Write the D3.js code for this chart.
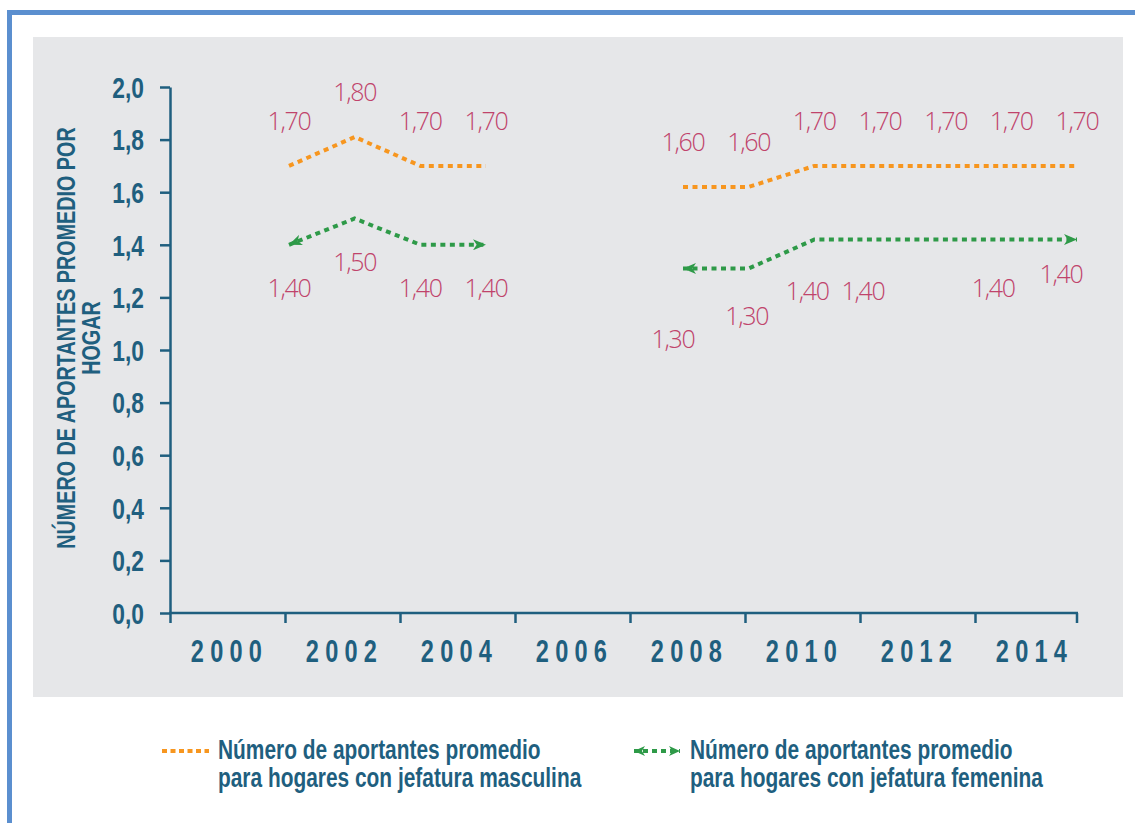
<!DOCTYPE html>
<html><head><meta charset="utf-8">
<script src="https://cdn.jsdelivr.net/npm/d3@7"></script>
<style>
html,body{margin:0;padding:0;background:#fff;}
svg{display:block;}
</style></head><body>
<svg id="chart" width="1135" height="823"></svg>
<script>
// ---- data ----
const years = [2002, 2003, 2004, 2005, 2006, 2007, 2008, 2009, 2010, 2011, 2012, 2013, 2014];
const maleValues   = [1.70, 1.81, 1.70, 1.70, null, null, 1.62, 1.62, 1.70, 1.70, 1.70, 1.70, 1.70];
const femaleValues = [1.40, 1.50, 1.40, 1.40, null, null, 1.31, 1.31, 1.42, 1.42, 1.42, 1.42, 1.42];
const maleLabels   = [1.7, 1.8, 1.7, 1.7, null, null, 1.6, 1.6, 1.7, 1.7, 1.7, 1.7, 1.7];
const femaleLabels = [1.4, 1.5, 1.4, 1.4, null, null, 1.3, 1.3, 1.4, 1.4, null, 1.4, 1.4];
const axisYears = [2000, 2002, 2004, 2006, 2008, 2010, 2012, 2014];
const yTicks = [0, 0.2, 0.4, 0.6, 0.8, 1.0, 1.2, 1.4, 1.6, 1.8, 2.0];
const yTitleLines = ["NÚMERO DE APORTANTES PROMEDIO POR", "HOGAR"];
const legendMale = ["Número de aportantes promedio", "para hogares con jefatura masculina"];
const legendFemale = ["Número de aportantes promedio", "para hogares con jefatura femenina"];

// ---- layout / style (label nudges as in the original artwork) ----
const femaleNudge = [[0,0],[0,0],[0,0],[0,0],null,null,[-10,28],[-2,5],[-7,8],[-17,8],[0,0],[-18,5],[-16,-9]];
const axisColor = "#1f5f7f";
const orange = "#f7961f";
const green = "#2e9a48";
const labelColor = "#c0436b";
const condFont = '"Liberation Sans", Arial, sans-serif';
const squeeze = 0.76; // horizontal condensing of the narrow typeface

const svg = d3.select("#chart");
svg.append("rect").attr("width", 1135).attr("height", 823).attr("fill", "#fff");
svg.append("rect").attr("x", 9.5).attr("y", 12.5).attr("width", 1300).attr("height", 1000)
  .attr("fill", "none").attr("stroke", "#5b8fcf").attr("stroke-width", 5);
svg.append("rect").attr("x", 33).attr("y", 37).attr("width", 1090).attr("height", 660).attr("fill", "#e6e7e9");

const defs = svg.append("defs");
function arrowMarker(id, w, h) {
  defs.append("marker").attr("id", id)
    .attr("viewBox", `0 0 ${w} ${h}`).attr("refX", w).attr("refY", h / 2)
    .attr("markerWidth", w).attr("markerHeight", h)
    .attr("markerUnits", "userSpaceOnUse").attr("orient", "auto-start-reverse")
    .append("path").attr("d", `M0,0 L${w},${h/2} L0,${h} L${w*0.28},${h/2} Z`).attr("fill", green);
}
arrowMarker("arrowG", 13, 11);
arrowMarker("arrowL", 11, 10);

const y = d3.scaleLinear().domain([0, 2]).range([613, 87]);
const x = d3.scaleLinear().domain([2002, 2014]).range([289, 1077]);
const xAxisScale = d3.scaleLinear().domain([2000, 2014]).range([170, 975]);

const loc = d3.formatLocale({decimal: ",", thousands: ".", grouping: [3], currency: ["", ""]});
const fmt1 = loc.format(".1f");
const fmt2 = loc.format(".2f");

// y axis
const gy = svg.append("g").attr("transform", "translate(170,0)")
  .call(d3.axisLeft(y).tickValues(yTicks).tickSize(10).tickSizeOuter(0).tickPadding(16).tickFormat(fmt1));
gy.select(".domain").attr("stroke", axisColor).attr("stroke-width", 2.5);
gy.selectAll(".tick line").attr("stroke", axisColor).attr("stroke-width", 2.5);
gy.selectAll(".tick text").attr("fill", axisColor).attr("font-family", condFont)
  .attr("font-weight", "bold").attr("font-size", 30).attr("dy", "0.34em")
  .attr("transform", `translate(-26,0) scale(${squeeze},1)`).attr("x", 0);

// x axis
const gx = svg.append("g").attr("transform", "translate(0,613)")
  .call(d3.axisBottom(xAxisScale).tickValues(axisYears).tickSize(10).tickSizeOuter(0).tickFormat(""));
gx.select(".domain").remove();
gx.selectAll(".tick line").attr("stroke", axisColor).attr("stroke-width", 2.5);
const xEnd = x(years[years.length - 1]);
gx.append("line").attr("x1", xAxisScale(axisYears[0]) - 1).attr("x2", xEnd + 1).attr("y1", 0).attr("y2", 0)
  .attr("stroke", axisColor).attr("stroke-width", 2.5);
gx.append("line").attr("x1", xEnd).attr("x2", xEnd).attr("y1", 0).attr("y2", 10)
  .attr("stroke", axisColor).attr("stroke-width", 2.5);
gx.selectAll("text.yl").data(axisYears).join("text").attr("class", "yl")
  .attr("transform", d => `translate(${(xAxisScale(d) + xAxisScale(d + 2)) / 2 + 2},49) scale(${squeeze},1)`)
  .attr("text-anchor", "middle")
  .attr("fill", axisColor).attr("font-family", condFont).attr("font-weight", "bold")
  .attr("font-size", 31).attr("letter-spacing", "8.2px").text(d => d);

// series
function segments(vals) {
  const segs = []; let cur = [];
  vals.forEach((v, i) => {
    if (v == null) { if (cur.length) segs.push(cur); cur = []; }
    else cur.push({year: years[i], value: v});
  });
  if (cur.length) segs.push(cur);
  return segs;
}
const line = d3.line().x(d => x(d.year)).y(d => y(d.value));

svg.append("g").selectAll("path").data(segments(maleValues)).join("path")
  .attr("d", line).attr("fill", "none").attr("stroke", orange).attr("stroke-width", 4)
  .attr("stroke-dasharray", "5,4.5");
svg.append("g").selectAll("path").data(segments(femaleValues)).join("path")
  .attr("d", line).attr("fill", "none").attr("stroke", green).attr("stroke-width", 4)
  .attr("stroke-dasharray", "5,4.5")
  .attr("marker-start", "url(#arrowG)").attr("marker-end", "url(#arrowG)");

// data labels
const labelFont = '"Open Sans", "Segoe UI", sans-serif';
svg.append("g").selectAll("text")
  .data(years.map((yr, i) => ({yr, v: maleValues[i], l: maleLabels[i]})).filter(d => d.l != null))
  .join("text")
  .attr("x", d => x(d.yr)).attr("y", d => y(d.v) - 36)
  .attr("text-anchor", "middle").attr("fill", labelColor)
  .attr("font-family", labelFont).attr("font-weight", 300).attr("font-size", 25)
  .attr("letter-spacing", "-1.3px").text(d => fmt2(d.l));
svg.append("g").selectAll("text")
  .data(years.map((yr, i) => ({yr, v: femaleValues[i], l: femaleLabels[i], n: femaleNudge[i]})).filter(d => d.l != null))
  .join("text")
  .attr("x", d => x(d.yr) + d.n[0]).attr("y", d => y(d.v) + 52 + d.n[1])
  .attr("text-anchor", "middle").attr("fill", labelColor)
  .attr("font-family", labelFont).attr("font-weight", 300).attr("font-size", 25)
  .attr("letter-spacing", "-1.3px").text(d => fmt2(d.l));

// y title
const title = svg.append("text").attr("transform", `translate(75,338) rotate(-90) scale(${squeeze},1)`)
  .attr("text-anchor", "middle").attr("fill", axisColor)
  .attr("font-family", condFont).attr("font-weight", "bold").attr("font-size", 26);
title.selectAll("tspan").data(yTitleLines).join("tspan")
  .attr("x", 0).attr("dy", (d, i) => i === 0 ? 0 : 25).text(d => d);

// legend
const leg = svg.append("g");
leg.append("line").attr("x1", 162).attr("x2", 209).attr("y1", 751).attr("y2", 751)
  .attr("stroke", orange).attr("stroke-width", 4).attr("stroke-dasharray", "5,3.5");
leg.append("line").attr("x1", 634).attr("x2", 680).attr("y1", 751).attr("y2", 751)
  .attr("stroke", green).attr("stroke-width", 4).attr("stroke-dasharray", "5,4")
  .attr("marker-start", "url(#arrowL)").attr("marker-end", "url(#arrowL)");
function legendText(x0, lines) {
  const t = leg.append("text").attr("transform", `translate(${x0},759) scale(${squeeze},1)`)
    .attr("fill", axisColor)
    .attr("font-family", condFont).attr("font-weight", "bold").attr("font-size", 27.5);
  t.selectAll("tspan").data(lines).join("tspan").attr("x", 0)
    .attr("dy", (d, i) => i === 0 ? 0 : 28).text(d => d);
}
legendText(218, legendMale);
legendText(690, legendFemale);
</script>
</body></html>
